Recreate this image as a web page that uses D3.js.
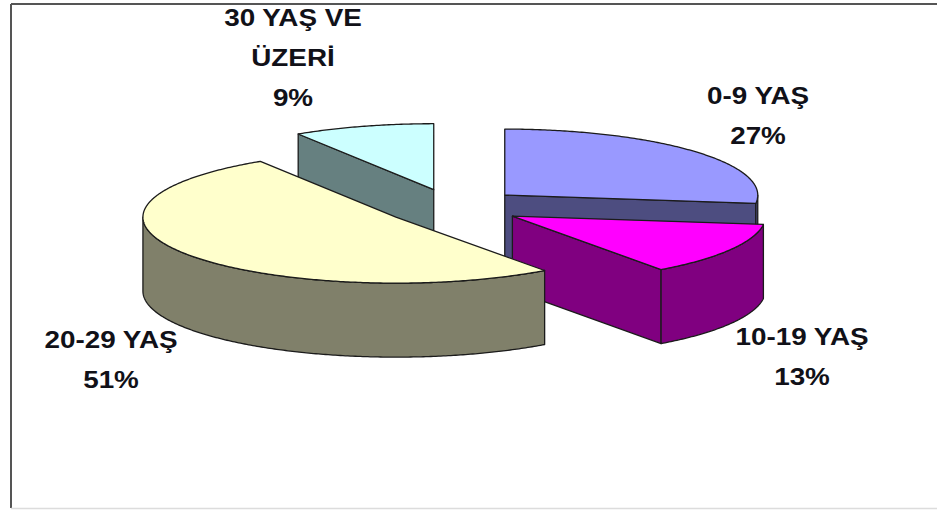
<!DOCTYPE html>
<html>
<head>
<meta charset="utf-8">
<script src="https://cdn.jsdelivr.net/npm/d3@7/dist/d3.min.js"></script>
<style>
  html, body { margin: 0; padding: 0; background: #ffffff; }
  svg { display: block; }
  text { font-family: "Liberation Sans", Arial, sans-serif; font-weight: bold; fill: #111118; }
</style>
</head>
<body>
<svg id="chart" width="937" height="510"></svg>
<script>
// ---- data ----
const categories = ["0-9 YAŞ", "10-19 YAŞ", "20-29 YAŞ", "30 YAŞ VE ÜZERİ"];
const values = [27, 13, 51, 9];
const percentLabels = ["27%", "13%", "51%", "9%"];
const labelLines = [["0-9 YAŞ"], ["10-19 YAŞ"], ["20-29 YAŞ"], ["30 YAŞ VE", "ÜZERİ"]];
const topColors = ["#9999FF", "#FF00FF", "#FFFFCC", "#CCFFFF"];
const sideColors = ["#4D4D80", "#800080", "#80806A", "#668080"];

// ---- layout ----
const W = 937, H = 510;
const cx = 453, cy = 207, rx = 253, ry = 66, thick = 74, explode = 69;
const labelPos = [
  { x: 758, y: 104 },
  { x: 802, y: 345 },
  { x: 111, y: 348 },
  { x: 293, y: 26 }
];
const lineGap = 40;
const stroke = "#1b1b1b";

const svg = d3.select("#chart");

// frame
svg.append("line").attr("x1", 11).attr("y1", 4).attr("x2", W).attr("y2", 4)
  .attr("stroke", "#555").attr("stroke-width", 2);
svg.append("line").attr("x1", 11).attr("y1", 4).attr("x2", 11).attr("y2", 508)
  .attr("stroke", "#555").attr("stroke-width", 2);
svg.append("line").attr("x1", 11).attr("y1", 508.5).attr("x2", W).attr("y2", 508.5)
  .attr("stroke", "#dcdcdc").attr("stroke-width", 1.5);

const pie = d3.pie().sort(null).value(d => d.value).startAngle(0).endAngle(2 * Math.PI);
const data = categories.map((c, i) => ({ cat: c, value: values[i], i }));
const arcs = pie(data);

const k = ry / rx;
arcs.forEach(d => {
  d.mid = (d.startAngle + d.endAngle) / 2;
  d.ox = cx + Math.sin(d.mid) * explode;
  d.oy = cy - Math.cos(d.mid) * explode * k;
});

function rim(d, a, dy = 0) {
  return [d.ox + Math.sin(a) * rx, d.oy - Math.cos(a) * ry + dy];
}
function arcPts(d, a0, a1, dy = 0) {
  const n = Math.max(2, Math.ceil(Math.abs(a1 - a0) / 0.01));
  return d3.range(n + 1).map(j => rim(d, a0 + (a1 - a0) * j / n, dy));
}
const line = d3.line();

// back-to-front order
const order = arcs.slice().sort((a, b) => (-Math.cos(a.mid)) - (-Math.cos(b.mid)));

const g = svg.append("g");
order.forEach(d => {
  const gi = g.append("g");
  const a0 = d.startAngle, a1 = d.endAngle;
  const side = sideColors[d.data.i], top = topColors[d.data.i];
  // radial cut faces
  const faces = [];
  if (Math.sin(a0) < -1e-6) faces.push(a0);
  if (Math.sin(a1) > 1e-6) faces.push(a1);
  faces.forEach(a => {
    const p = rim(d, a);
    const pts = [[d.ox, d.oy], p, [p[0], p[1] + thick], [d.ox, d.oy + thick]];
    gi.append("path").attr("d", line(pts) + "Z")
      .attr("fill", side).attr("stroke", stroke).attr("stroke-width", 1.3)
      .attr("stroke-linejoin", "round");
  });
  // outer wall (front half)
  const s = Math.max(a0, Math.PI / 2), t = Math.min(a1, 3 * Math.PI / 2);
  if (s < t) {
    const pts = arcPts(d, s, t).concat(arcPts(d, t, s, thick));
    gi.append("path").attr("d", line(pts) + "Z")
      .attr("fill", side).attr("stroke", stroke).attr("stroke-width", 1.3)
      .attr("stroke-linejoin", "round");
  }
  // top face
  const tp = [[d.ox, d.oy]].concat(arcPts(d, a0, a1));
  gi.append("path").attr("d", line(tp) + "Z")
    .attr("fill", top).attr("stroke", stroke).attr("stroke-width", 1.3)
    .attr("stroke-linejoin", "round");
});

// labels
arcs.forEach(d => {
  const i = d.data.i;
  const lines = labelLines[i].concat([percentLabels[i]]);
  const p = labelPos[i];
  lines.forEach((txt, j) => {
    svg.append("text")
      .attr("transform", `translate(${p.x},${p.y + j * lineGap}) scale(1.16,1)`)
      .attr("text-anchor", "middle")
      .attr("font-size", 24)
      .text(txt);
  });
});
</script>
</body>
</html>
